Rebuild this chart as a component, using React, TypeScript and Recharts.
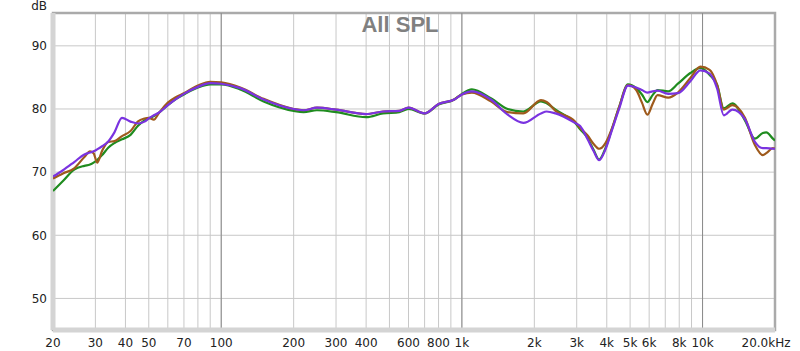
import React from 'react';
import { LineChart, Line, XAxis, YAxis, CartesianGrid, ReferenceLine, ReferenceArea } from 'recharts';

// frequency points (Hz) shared by the three measurements
const FREQS = [
  20, 22, 24.5, 27, 28.5, 29.5, 30.5, 32, 34, 36, 38.7, 42, 45, 48, 50, 52.5, 55, 60, 65, 70,
  80, 90, 100, 120, 150, 200, 220, 250, 300, 400, 470, 550, 600, 700, 800, 930, 1000, 1100,
  1320, 1550, 1800, 2130, 2250, 2450, 2950, 3100, 3330, 3520, 3720, 3950, 4200, 4500, 4900,
  5300, 5600, 5900, 6200, 6500, 7200, 7900, 8900, 9800, 10700, 11500, 12250, 13300, 15000,
  16500, 17800, 18400, 19600, 20000,
];

const GREEN = [
  67.0, 68.6, 70.4, 71.0, 71.2, 71.5, 71.9, 72.7, 73.9, 74.6, 75.2, 75.9, 77.3, 78.2, 78.5, 78.9, 79.4, 80.6, 81.6, 82.3,
  83.4, 83.9, 83.9, 83.1, 81.2, 79.7, 79.5, 79.8, 79.5, 78.7, 79.3, 79.5, 80.0, 79.3, 80.7, 81.5, 82.4, 83.1,
  81.7, 80.0, 79.6, 81.2, 80.9, 79.9, 77.8, 76.8, 75.4, 73.6, 72.0, 73.8, 76.8, 80.3, 83.9,
  83.3, 82.3, 81.1, 82.2, 83.0, 82.8, 84.0, 85.7, 86.5, 85.4, 83.8, 80.1, 80.9, 78.2,
  75.3, 76.2, 76.3, 75.3, 75.0,
];

const BROWN = [
  69.0, 69.8, 70.6, 72.4, 73.3, 73.0, 71.5, 73.4, 74.8, 74.9, 75.7, 76.5, 78.0, 78.5, 78.6, 78.3, 79.3, 81.0, 81.9, 82.5,
  83.7, 84.3, 84.2, 83.4, 81.6, 80.0, 79.8, 80.2, 79.9, 79.2, 79.6, 79.7, 80.2, 79.3, 80.8, 81.5, 82.3, 82.6,
  81.2, 79.5, 79.3, 81.4, 81.1, 79.7, 78.0, 77.0, 75.8, 74.5, 73.7, 74.6, 76.9, 80.3, 83.8,
  83.0, 81.0, 79.1, 80.8, 82.2, 81.8, 82.6, 84.9, 86.7, 86.2, 83.8, 79.9, 80.6, 78.6,
  74.3, 72.7, 73.0, 73.8, 73.7,
];

const PURPLE = [
  69.3, 70.3, 71.6, 72.8, 73.1, 73.3, 73.6, 74.1, 74.9, 76.3, 78.6, 78.0, 77.7, 78.0, 78.5, 79.0, 79.4, 80.6, 81.6, 82.4,
  83.5, 84.1, 84.0, 83.3, 81.5, 80.0, 79.8, 80.2, 79.9, 79.2, 79.6, 79.7, 80.2, 79.3, 80.8, 81.5, 82.3, 82.8,
  81.5, 79.1, 77.8, 79.3, 79.6, 79.3, 77.8, 77.3, 75.2, 73.4, 71.9, 73.6, 76.6, 80.0, 83.7,
  83.4, 83.0, 82.6, 82.8, 82.9, 82.4, 82.5, 84.4, 86.1, 85.6, 83.2, 79.0, 79.9, 78.4,
  74.8, 73.8, 73.8, 73.7, 73.7,
];

// vertical grid lines, only some of them carry a label
const GRID_FREQS = [
  20, 30, 40, 50, 60, 70, 80, 90, 100, 200, 300, 400, 500, 600, 700, 800, 900, 1000,
  2000, 3000, 4000, 5000, 6000, 7000, 8000, 9000, 10000, 20000,
];
const FREQ_LABELS: Record<number, string> = {
  20: '20', 30: '30', 40: '40', 50: '50', 70: '70', 100: '100', 200: '200', 300: '300',
  400: '400', 600: '600', 800: '800', 1000: '1k', 2000: '2k', 3000: '3k', 4000: '4k',
  5000: '5k', 6000: '6k', 8000: '8k', 10000: '10k', 20000: '20.0kHz',
};
const DECADES = [100, 1000, 10000];
const DB_TICKS = [50, 60, 70, 80, 90];
const DB_MIN = 45;
const DB_MAX = 95.2;

const data = FREQS.map((f, i) => ({ f, green: GREEN[i], brown: BROWN[i], purple: PURPLE[i] }));

const FreqTick = ({ x, y, payload }: any) => {
  const label = FREQ_LABELS[payload.value];
  if (!label) return <g />;
  const dx = payload.value === 20000 ? -9 : 0;
  return (
    <text x={x + dx} y={y} dy="0.71em" textAnchor="middle" fontSize={12} fill="#222">
      {label}
    </text>
  );
};

const App = () => (
  <div style={{ position: 'absolute', left: 0, top: 0, width: 800, height: 351, background: '#fff' }}>
    <LineChart
      width={800}
      height={351}
      data={data}
      margin={{ top: 13, right: 25, bottom: 0, left: 0 }}
      style={{ fontFamily: '"DejaVu Sans", sans-serif' }}
    >
      <CartesianGrid stroke="#c8c8c8" strokeWidth={1} />
      <XAxis
        dataKey="f"
        type="number"
        scale="log"
        domain={[20, 20000]}
        ticks={GRID_FREQS}
        interval={0}
        tick={<FreqTick />}
        tickLine={false}
        axisLine={false}
        tickSize={0}
        tickMargin={8}
        height={21}
        allowDataOverflow
      />
      <YAxis
        type="number"
        domain={[DB_MIN, DB_MAX]}
        ticks={DB_TICKS}
        interval={0}
        tickLine={false}
        axisLine={false}
        tickSize={0}
        tickMargin={6}
        width={53}
        tick={{ fontSize: 12, fill: '#222' }}
        allowDataOverflow
      />
      {DECADES.map((f) => (
        <ReferenceLine key={f} x={f} stroke="#8a8a8a" strokeWidth={1} />
      ))}
      {/* soft shadow on the left and bottom edges of the frame */}
      <ReferenceLine x={20} stroke="#d4d4d4" strokeWidth={5} />
      <ReferenceLine y={DB_MIN} stroke="#d4d4d4" strokeWidth={5} />
      <ReferenceArea
        x1={20}
        x2={20000}
        y1={DB_MIN}
        y2={DB_MAX}
        fill="none"
        stroke="#aaaaaa"
        strokeWidth={2.5}
      />
      <Line type="monotone" dataKey="green" stroke="#1f8c1f" strokeWidth={2.2} dot={false} isAnimationActive={false} />
      <Line type="monotone" dataKey="brown" stroke="#9e5a1c" strokeWidth={2.2} dot={false} isAnimationActive={false} />
      <Line type="monotone" dataKey="purple" stroke="#7a33e0" strokeWidth={2.2} dot={false} isAnimationActive={false} />
      <text x={400} y={32} textAnchor="middle" fontSize={22} fontWeight="bold" fill="#808080"
        style={{ fontFamily: '"Liberation Sans", sans-serif' }}>
        All SPL
      </text>
      <text x={47} y={10} textAnchor="end" fontSize={12} fill="#222">dB</text>
    </LineChart>
  </div>
);

export default App;
